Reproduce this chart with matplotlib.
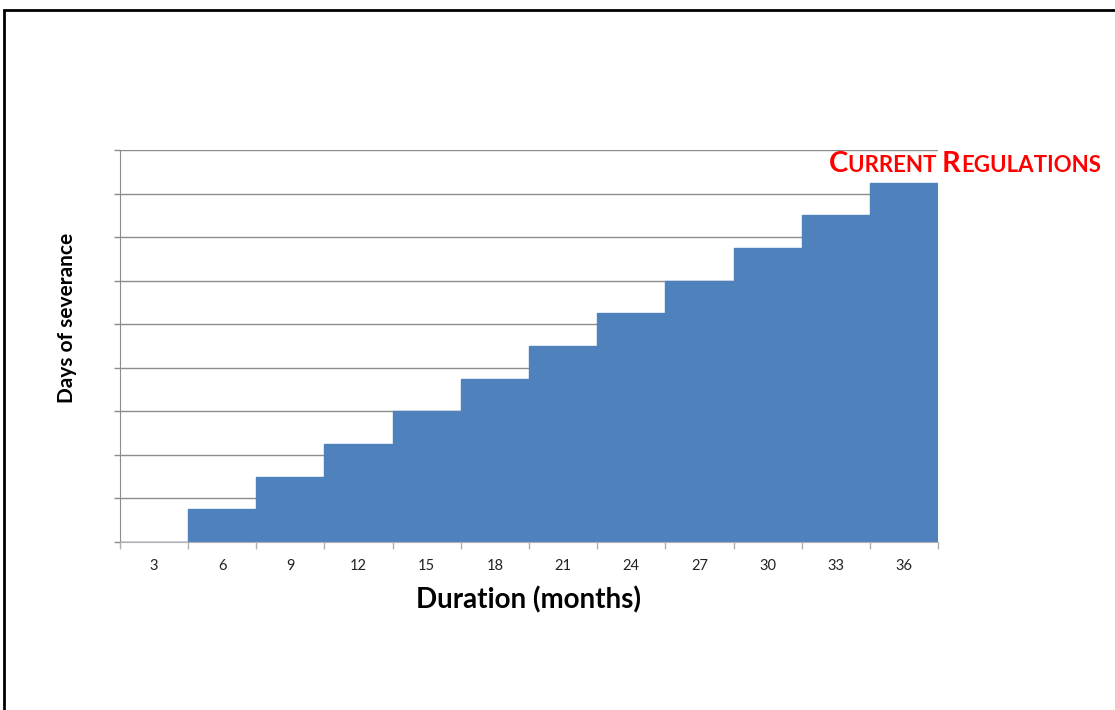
import matplotlib
matplotlib.use("Agg")
import matplotlib.pyplot as plt
from matplotlib.patches import Rectangle
import numpy as np

months = ["3", "6", "9", "12", "15", "18", "21", "24", "27", "30", "33", "36"]
days = [0, 15, 30, 45, 60, 75, 90, 105, 120, 135, 150, 165]
y_max = 180
y_step = 20

plt.rcParams['font.family'] = ['Lato', 'DejaVu Sans']

fig = plt.figure(figsize=(11.15, 7.1), dpi=100)
W, H = 1115, 710

# outer border (extends beyond right/bottom)
fig.patches.append(Rectangle((4 / W, -0.1), 1.2, (H - 10) / H + 0.1, transform=fig.transFigure,
                             fill=False, edgecolor='black', linewidth=2))

ax = fig.add_axes([120 / W, 1 - 542 / H, (938 - 120) / W, (542 - 150) / H])
x = np.arange(len(months))
ax.bar(x, days, width=1.0, color='#4F81BD', edgecolor='#4F81BD', linewidth=1.0, zorder=2)
ax.set_xlim(-0.5, len(months) - 0.5)
ax.set_ylim(0, y_max)
ax.set_yticks(np.arange(0, y_max + 1, y_step))
ax.set_yticklabels([])
ax.yaxis.grid(True, color='#8c8c8c', linewidth=1.0, zorder=1)
ax.set_axisbelow(True)
ax.set_xticks(x)
ax.set_xticklabels(months, fontsize=10.5, color='#222222')
ax.set_xticks(np.arange(-0.5, len(months), 1.0), minor=True)
ax.tick_params(axis='x', which='major', length=0, pad=12)
ax.tick_params(axis='x', which='minor', length=5, color='#b0b0b0', width=1)
ax.tick_params(axis='y', length=4, color='#8c8c8c', width=1)
for s in ['top', 'right']:
    ax.spines[s].set_visible(False)
ax.spines['left'].set_color('#8c8c8c')
ax.spines['bottom'].set_color('#b0b0b0')
ax.spines['bottom'].set_zorder(3)

ax.set_xlabel("Duration (months)", fontsize=20, fontweight='bold')
ax.xaxis.set_label_coords(0.5, (542 - 600) / 392, transform=ax.transAxes)
ax.xaxis.label.set_va('center')
ax.set_ylabel("Days of severance", fontsize=15, fontweight='bold')
ax.yaxis.set_label_coords((67 - 120) / 818, (542 - 318) / 392, transform=ax.transAxes)
ax.yaxis.label.set_va('center')

# small-caps title
fig.canvas.draw()
r = fig.canvas.get_renderer()
parts = [("C", 21), ("URRENT ", 16), ("R", 21), ("EGULATIONS", 16)]
xpos = 829
ybase = H - 172
for txt, sz in parts:
    t = fig.text(xpos / W, ybase / H, txt, fontsize=sz, fontweight='bold', color='#ff0000',
                 ha='left', va='baseline')
    bb = t.get_window_extent(renderer=r)
    xpos += bb.width

fig.savefig("out.png", dpi=100)
